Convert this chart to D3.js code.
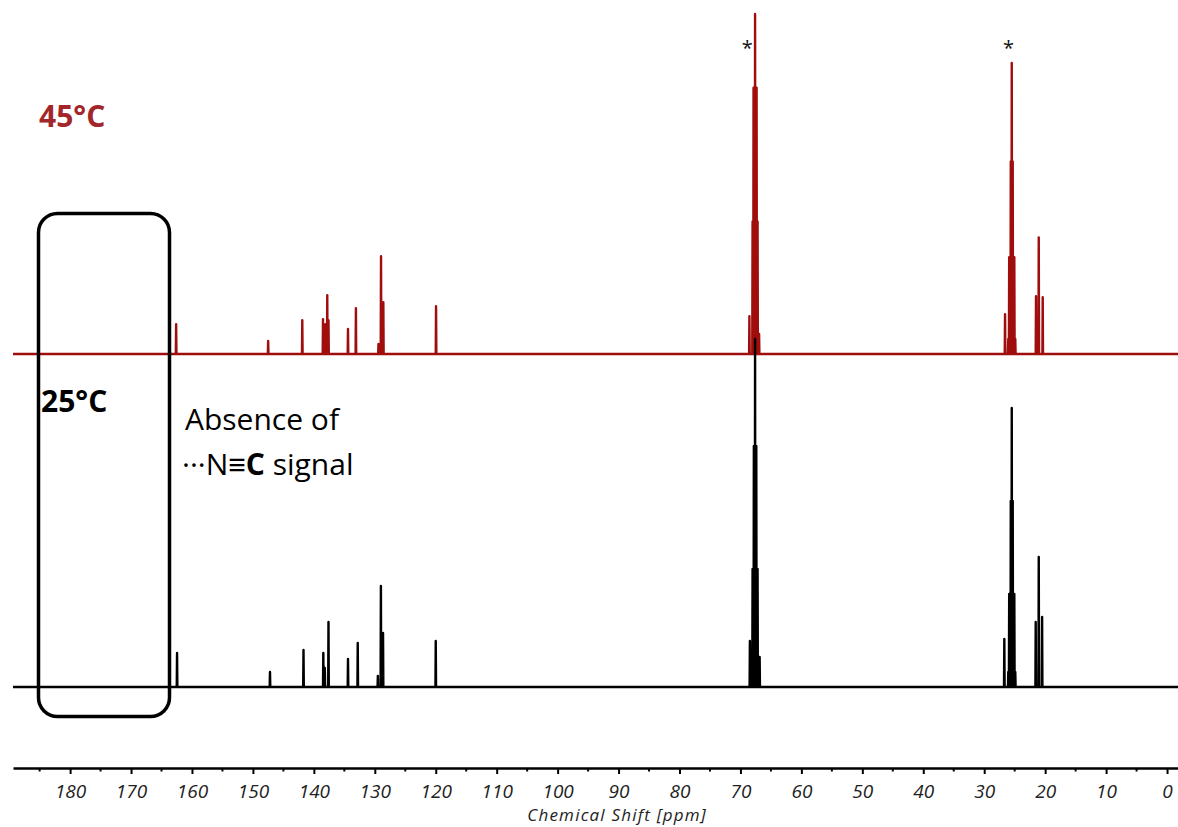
<!DOCTYPE html>
<html><head><meta charset="utf-8">
<script src="https://cdn.jsdelivr.net/npm/d3@7"></script>
<style>
html,body{margin:0;padding:0;background:#fff;}
svg{display:block;}
text{font-family:"Open Sans",sans-serif;}
</style></head>
<body>
<script>
// ---- data (ppm, relative intensity) ----
const redPpm = [162.6,147.5,141.9,138.5,138.1,137.8,137.6,134.4,133.1,129.4,128.98,128.6,119.95,
  68.53,68.01,67.85,67.6,67.35,67.19,66.94,
  26.58,26.05,25.9,25.64,25.48,25.32,25.06,24.9,21.5,21.05,20.4];
const redInt = [30,13,34,35,30,59,34,25,46,10,98,52,48,
  38,133,267,341,267,133,20,
  40,15,97,193,292,193,97,15,58,117,57];
const blackPpm = [162.45,147.2,141.7,138.45,138.2,137.6,134.4,132.8,129.5,129.0,128.65,120.0,
  68.45,68.01,67.8,67.6,67.4,67.19,66.85,
  26.7,26.05,25.9,25.64,25.48,25.32,25.06,24.9,21.55,21.05,20.5];
const blackInt = [34,15,37,34,19,65,28,44,11,101,54,46,
  46,118,241,348,241,118,30,
  48,15,93,186,279,186,93,15,65,130,70];
const majorTicks = [180,170,160,150,140,130,120,110,100,90,80,70,60,50,40,30,20,10,0];
const minorTicks = [185,175,165,155,145,135,125,115,105,95,85,75,65,55,45,35,25,15,5];
const labels = {hot:"45°C", cold:"25°C", axis:"Chemical Shift [ppm]"};

const W = 1178, H = 827;
const svg = d3.select("body").append("svg").attr("width", W).attr("height", H);

const x = d3.scaleLinear().domain([189.37, -1.8]).range([13, 1178]);
const yRed = d3.scaleLinear().domain([0, 341]).range([354, 14]);
const yBlack = d3.scaleLinear().domain([0, 348]).range([687, 339]);

function spectrumPoints(ppm, inten){
  const pk = ppm.map((p,i)=>({p, h:inten[i]})).sort((a,b)=>b.p-a.p);
  const hw = 0.05;
  const pts = [[x.domain()[0],0]];
  pk.forEach(d=>{ pts.push([d.p+hw,0]); pts.push([d.p,d.h]); pts.push([d.p-hw,0]); });
  pts.push([x.domain()[1],0]);
  return pts;
}

// red (45 °C) spectrum
svg.append("path")
  .attr("d", d3.line().x(d=>x(d[0])).y(d=>yRed(d[1]))(spectrumPoints(redPpm, redInt)))
  .attr("fill","none").attr("stroke","#a00d0d").attr("stroke-width",2.4)
  .attr("stroke-linejoin","round");

// black (25 °C) spectrum
svg.append("path")
  .attr("d", d3.line().x(d=>x(d[0])).y(d=>yBlack(d[1]))(spectrumPoints(blackPpm, blackInt)))
  .attr("fill","none").attr("stroke","#000").attr("stroke-width",2.4)
  .attr("stroke-linejoin","round");

// asterisks on solvent peaks
[68.9, 26.0].forEach(p=>{
  svg.append("text").attr("x", x(p)).attr("y", 55)
    .attr("text-anchor","middle").attr("font-size",20).attr("fill","#111").text("*");
});

// axis
const axisG = svg.append("g").attr("transform","translate(0,768)");
axisG.call(d3.axisBottom(x).tickValues(majorTicks).tickSize(6).tickSizeOuter(0).tickPadding(11));
axisG.select(".domain").attr("stroke","#000").attr("stroke-width",2.5);
axisG.selectAll(".tick line").attr("stroke","#000").attr("stroke-width",2);
axisG.selectAll(".tick text").attr("font-family","'Open Sans',sans-serif").attr("font-style","italic")
  .attr("font-size",19).attr("fill","#222");
axisG.selectAll(".minor").data(minorTicks).enter().append("line")
  .attr("x1",d=>x(d)).attr("x2",d=>x(d)).attr("y1",0).attr("y2",3.5)
  .attr("stroke","#000").attr("stroke-width",2);
svg.append("text").attr("x",707).attr("y",821).attr("text-anchor","end")
  .attr("font-style","italic").attr("font-size",17).attr("letter-spacing",1.2)
  .attr("fill","#222").text(labels.axis);

// temperature labels
svg.append("text").attr("x",39).attr("y",127).attr("font-weight","bold").attr("font-size",30)
  .attr("fill","#a3272a").text(labels.hot);
svg.append("text").attr("x",41).attr("y",412).attr("font-weight","bold").attr("font-size",30)
  .attr("fill","#000").text(labels.cold);

// highlight box
svg.append("rect").attr("x",38.5).attr("y",213.5).attr("width",131).attr("height",503)
  .attr("rx",19).attr("fill","none").attr("stroke","#000").attr("stroke-width",3.5);

// annotation
svg.append("text").attr("x",185).attr("y",430).attr("font-size",30).attr("fill","#000").text("Absence of");
const t2 = svg.append("text").attr("x",182).attr("y",475).attr("font-size",30).attr("fill","#000");
t2.append("tspan").text("···N≡");
t2.append("tspan").attr("font-weight","bold").text("C");
t2.append("tspan").text(" signal");
</script>
</body></html>
